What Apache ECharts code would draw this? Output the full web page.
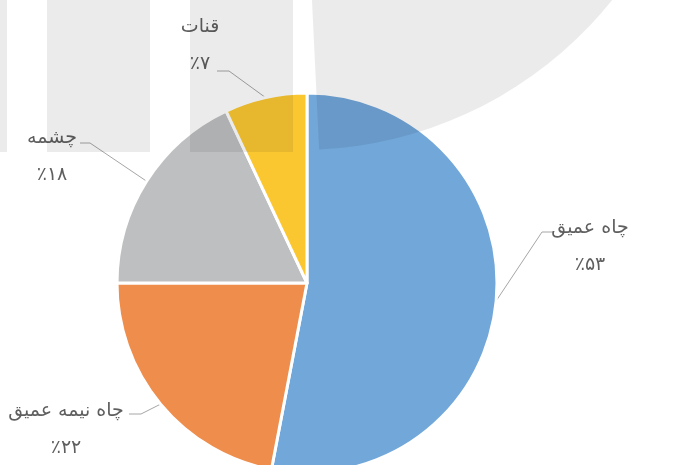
<!DOCTYPE html>
<html>
<head>
<meta charset="utf-8">
<style>
	html, body { margin: 0; padding: 0; background: #fff; }
	#chart { width: 687px; height: 465px; }
</style>
<script src="https://cdn.jsdelivr.net/npm/echarts@6/dist/echarts.min.js"></script>
</head>
<body>
<div id="chart"></div>
<script>
// water sources, share in percent
const categories = ["چاه عمیق", "چاه نیمه عمیق", "چشمه", "قنات"];
const shares = [53, 22, 18, 7];
const shareLabels = ["٪۵۳", "٪۲۲", "٪۱۸", "٪۷"];

const colors = ["#72a7da", "#ee8d4c", "#bebfc0", "#fbc731"];

// label block centre + elbow/end of the leader line (layout only)
const labelSpots = [
	{ c: [590, 247], elbow: [542, 232], end: [553, 232] },
	{ c: [66, 430], elbow: [141, 414], end: [129, 414] },
	{ c: [52, 157], elbow: [90, 143], end: [80, 143] },
	{ c: [200, 46], elbow: [229, 71], end: [217, 71] },
];

const chart = echarts.init(document.getElementById("chart"), null, { renderer: "canvas" });

const shade = "rgba(0,0,0,0.08)";

const option = {
	animation: false,
	backgroundColor: "#ffffff",
	color: colors,
	graphic: [
		{ type: "rect", z: 100, silent: true, shape: { x: 0, y: 0, width: 7, height: 152 }, style: { fill: shade } },
		{ type: "rect", z: 100, silent: true, shape: { x: 47, y: 0, width: 103, height: 152 }, style: { fill: shade } },
		{ type: "rect", z: 100, silent: true, shape: { x: 190, y: 0, width: 103, height: 152 }, style: { fill: shade } },
		{
			type: "sector", z: 100, silent: true,
			shape: { cx: 300, cy: -250, r: 400, r0: 0, startAngle: 0, endAngle: 1.523, clockwise: true },
			style: { fill: shade },
		},
	],
	series: [
		{
			type: "pie",
			center: [307, 283],
			radius: 190,
			startAngle: 90,
			clockwise: true,
			itemStyle: { borderColor: "#ffffff", borderWidth: 3 },
			label: {
				show: true,
				position: "outside",
				fontFamily: "DejaVu Sans",
				color: "#5f5f5f",
				formatter: (p) => "{n|" + p.name + "}\n{p|" + shareLabels[p.dataIndex] + "}",
				rich: {
					n: { fontSize: 19, lineHeight: 37, color: "#5f5f5f", fontFamily: "DejaVu Sans" },
					p: { fontSize: 19, lineHeight: 37, color: "#5f5f5f", fontFamily: "DejaVu Sans" },
				},
			},
			labelLine: {
				show: true,
				length: 20,
				length2: 10,
				lineStyle: { color: "#a6a6a6", width: 1 },
			},
			labelLayout: (params) => {
				const s = labelSpots[params.dataIndex];
				const start = params.labelLinePoints ? params.labelLinePoints[0] : s.elbow;
				return {
					x: s.c[0],
					y: s.c[1],
					align: "center",
					verticalAlign: "middle",
					labelLinePoints: [start, s.elbow, s.end],
				};
			},
			emphasis: { disabled: true },
			data: categories.map((name, i) => ({ name: name, value: shares[i] })),
		},
	],
};

chart.setOption(option);
</script>
</body>
</html>
